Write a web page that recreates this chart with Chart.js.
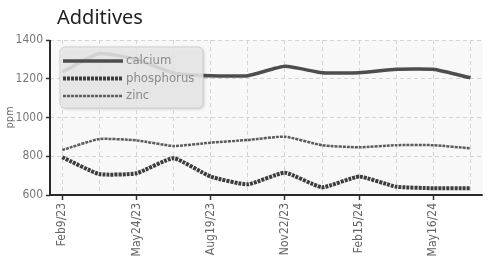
<!DOCTYPE html>
<html lang="en">
<head>
  <meta charset="UTF-8" />
  <title>Additives</title>
  <script src="https://cdn.jsdelivr.net/npm/chart.js"></script>
  <style>
    html, body { margin: 0; padding: 0; background: #fff; }
    #wrap { width: 488px; height: 260px; position: relative; }
  </style>
</head>
<body>
  <div id="wrap"><canvas id="grafico"></canvas></div>

  <script>
    // dados (datas intermediárias não aparecem no eixo)
    const datas = ['Feb9/23', 'Apr7/23', 'May24/23', 'Jul6/23', 'Aug19/23', 'Oct5/23',
                   'Nov22/23', 'Jan3/24', 'Feb15/24', 'Apr1/24', 'May16/24', 'Jun30/24'];
    const calcium = [1235, 1330, 1300, 1230, 1215, 1216, 1264, 1231, 1231, 1249, 1249, 1205];
    const phosphorus = [795, 708, 712, 790, 695, 655, 715, 640, 695, 643, 635, 635];
    const zinc = [832, 889, 882, 853, 870, 884, 901, 857, 846, 857, 857, 841];
    const yTicks = [600, 800, 1000, 1200, 1400];
    const titulo = 'Additives';

    const fonteEstreita = "'Liberation Sans Narrow', 'DejaVu Sans Condensed', sans-serif";

    const pontos = arr => arr.map((v, i) => ({ x: i, y: v }));

    // fundo cinza claro da área do gráfico
    const fundoArea = {
      id: 'fundoArea',
      beforeDraw(chart) {
        const { ctx, chartArea: a } = chart;
        ctx.save();
        ctx.fillStyle = '#f8f8f8';
        ctx.fillRect(a.left, a.top, a.right - a.left, a.bottom - a.top);
        ctx.restore();
      }
    };

    // eixos sólidos escuros + título
    const eixosTitulo = {
      id: 'eixosTitulo',
      afterDraw(chart) {
        const { ctx, chartArea: a } = chart;
        ctx.save();
        ctx.strokeStyle = '#2a2a2a';
        ctx.lineWidth = 2;
        ctx.beginPath();
        ctx.moveTo(a.left, a.top);
        ctx.lineTo(a.left, a.bottom);
        ctx.lineTo(a.right, a.bottom);
        ctx.stroke();

        ctx.fillStyle = '#222';
        ctx.font = "20px 'Noto Sans', sans-serif";
        ctx.textBaseline = 'middle';
        ctx.fillText(titulo, a.left + 7, 18);
        ctx.restore();
      }
    };

    // legenda dentro da área, por cima das linhas
    const legendaInterna = {
      id: 'legendaInterna',
      afterDatasetsDraw(chart) {
        const ctx = chart.ctx;
        const x = chart.chartArea.left + 10, y = chart.chartArea.top + 7, w = 143, h = 61;
        ctx.save();
        ctx.shadowColor = 'rgba(0,0,0,0.25)';
        ctx.shadowBlur = 3;
        ctx.shadowOffsetX = 1;
        ctx.shadowOffsetY = 1;
        ctx.fillStyle = 'rgba(236,236,236,0.85)';
        ctx.beginPath();
        ctx.roundRect(x, y, w, h, 5);
        ctx.fill();
        ctx.shadowColor = 'transparent';
        ctx.strokeStyle = '#cfcfcf';
        ctx.lineWidth = 1;
        ctx.stroke();

        chart.data.datasets.forEach((ds, i) => {
          const ly = y + 14 + i * 17.5;
          ctx.strokeStyle = ds.borderColor;
          ctx.lineWidth = ds.borderWidth;
          ctx.setLineDash(ds.borderDash || []);
          ctx.beginPath();
          ctx.moveTo(x + 3, ly);
          ctx.lineTo(x + 63, ly);
          ctx.stroke();
          ctx.setLineDash([]);
          ctx.fillStyle = '#8a8a8a';
          ctx.font = '13px ' + fonteEstreita;
          ctx.textBaseline = 'middle';
          ctx.fillText(ds.label, x + 66, ly);
        });
        ctx.restore();
      }
    };

    new Chart(document.getElementById('grafico'), {
      type: 'line',
      data: {
        datasets: [
          { label: 'calcium', data: pontos(calcium), borderColor: '#4d4d4d', borderWidth: 3.5 },
          { label: 'phosphorus', data: pontos(phosphorus), borderColor: '#3d3d3d', borderWidth: 4, borderDash: [3, 1] },
          { label: 'zinc', data: pontos(zinc), borderColor: '#5c5c5c', borderWidth: 2.5, borderDash: [3, 1] }
        ]
      },
      options: {
        responsive: true,
        maintainAspectRatio: false,
        animation: false,
        layout: { padding: { left: 0, right: 5, top: 40, bottom: 0 } },
        elements: {
          point: { radius: 0 },
          line: { tension: 0.15, fill: false }
        },
        plugins: {
          legend: { display: false },
          tooltip: { enabled: false },
          title: { display: false }
        },
        scales: {
          x: {
            type: 'linear',
            min: -0.33,
            max: 11.33,
            afterBuildTicks: axis => { axis.ticks = datas.map((_, i) => ({ value: i })); },
            afterFit: s => { s.height = 65; },
            ticks: {
              autoSkip: false,
              minRotation: 90,
              maxRotation: 90,
              padding: 3,
              color: '#666',
              font: { size: 12, family: fonteEstreita },
              callback: v => (v % 2 === 0 ? datas[v] : '')
            },
            grid: {
              color: '#d4d4d4',
              tickLength: 5,
              tickWidth: 1.5,
              tickColor: c => (c.index % 2 === 0 ? '#333' : 'rgba(0,0,0,0)')
            },
            border: { display: false, dash: [4, 3] }
          },
          y: {
            min: 600,
            max: 1400,
            afterBuildTicks: axis => { axis.ticks = yTicks.map(v => ({ value: v })); },
            afterFit: s => { s.width = 50; },
            ticks: {
              padding: 3,
              color: '#777',
              font: { size: 12, family: fonteEstreita },
              callback: v => String(v)
            },
            grid: { color: '#d4d4d4', tickLength: 4, tickWidth: 1.5, tickColor: '#333' },
            border: { display: false, dash: [4, 3] },
            title: {
              display: true,
              text: 'ppm',
              color: '#666',
              font: { size: 11, family: fonteEstreita },
              padding: { top: 4, bottom: 0 }
            }
          }
        }
      },
      plugins: [fundoArea, legendaInterna, eixosTitulo]
    });
  </script>
</body>
</html>
